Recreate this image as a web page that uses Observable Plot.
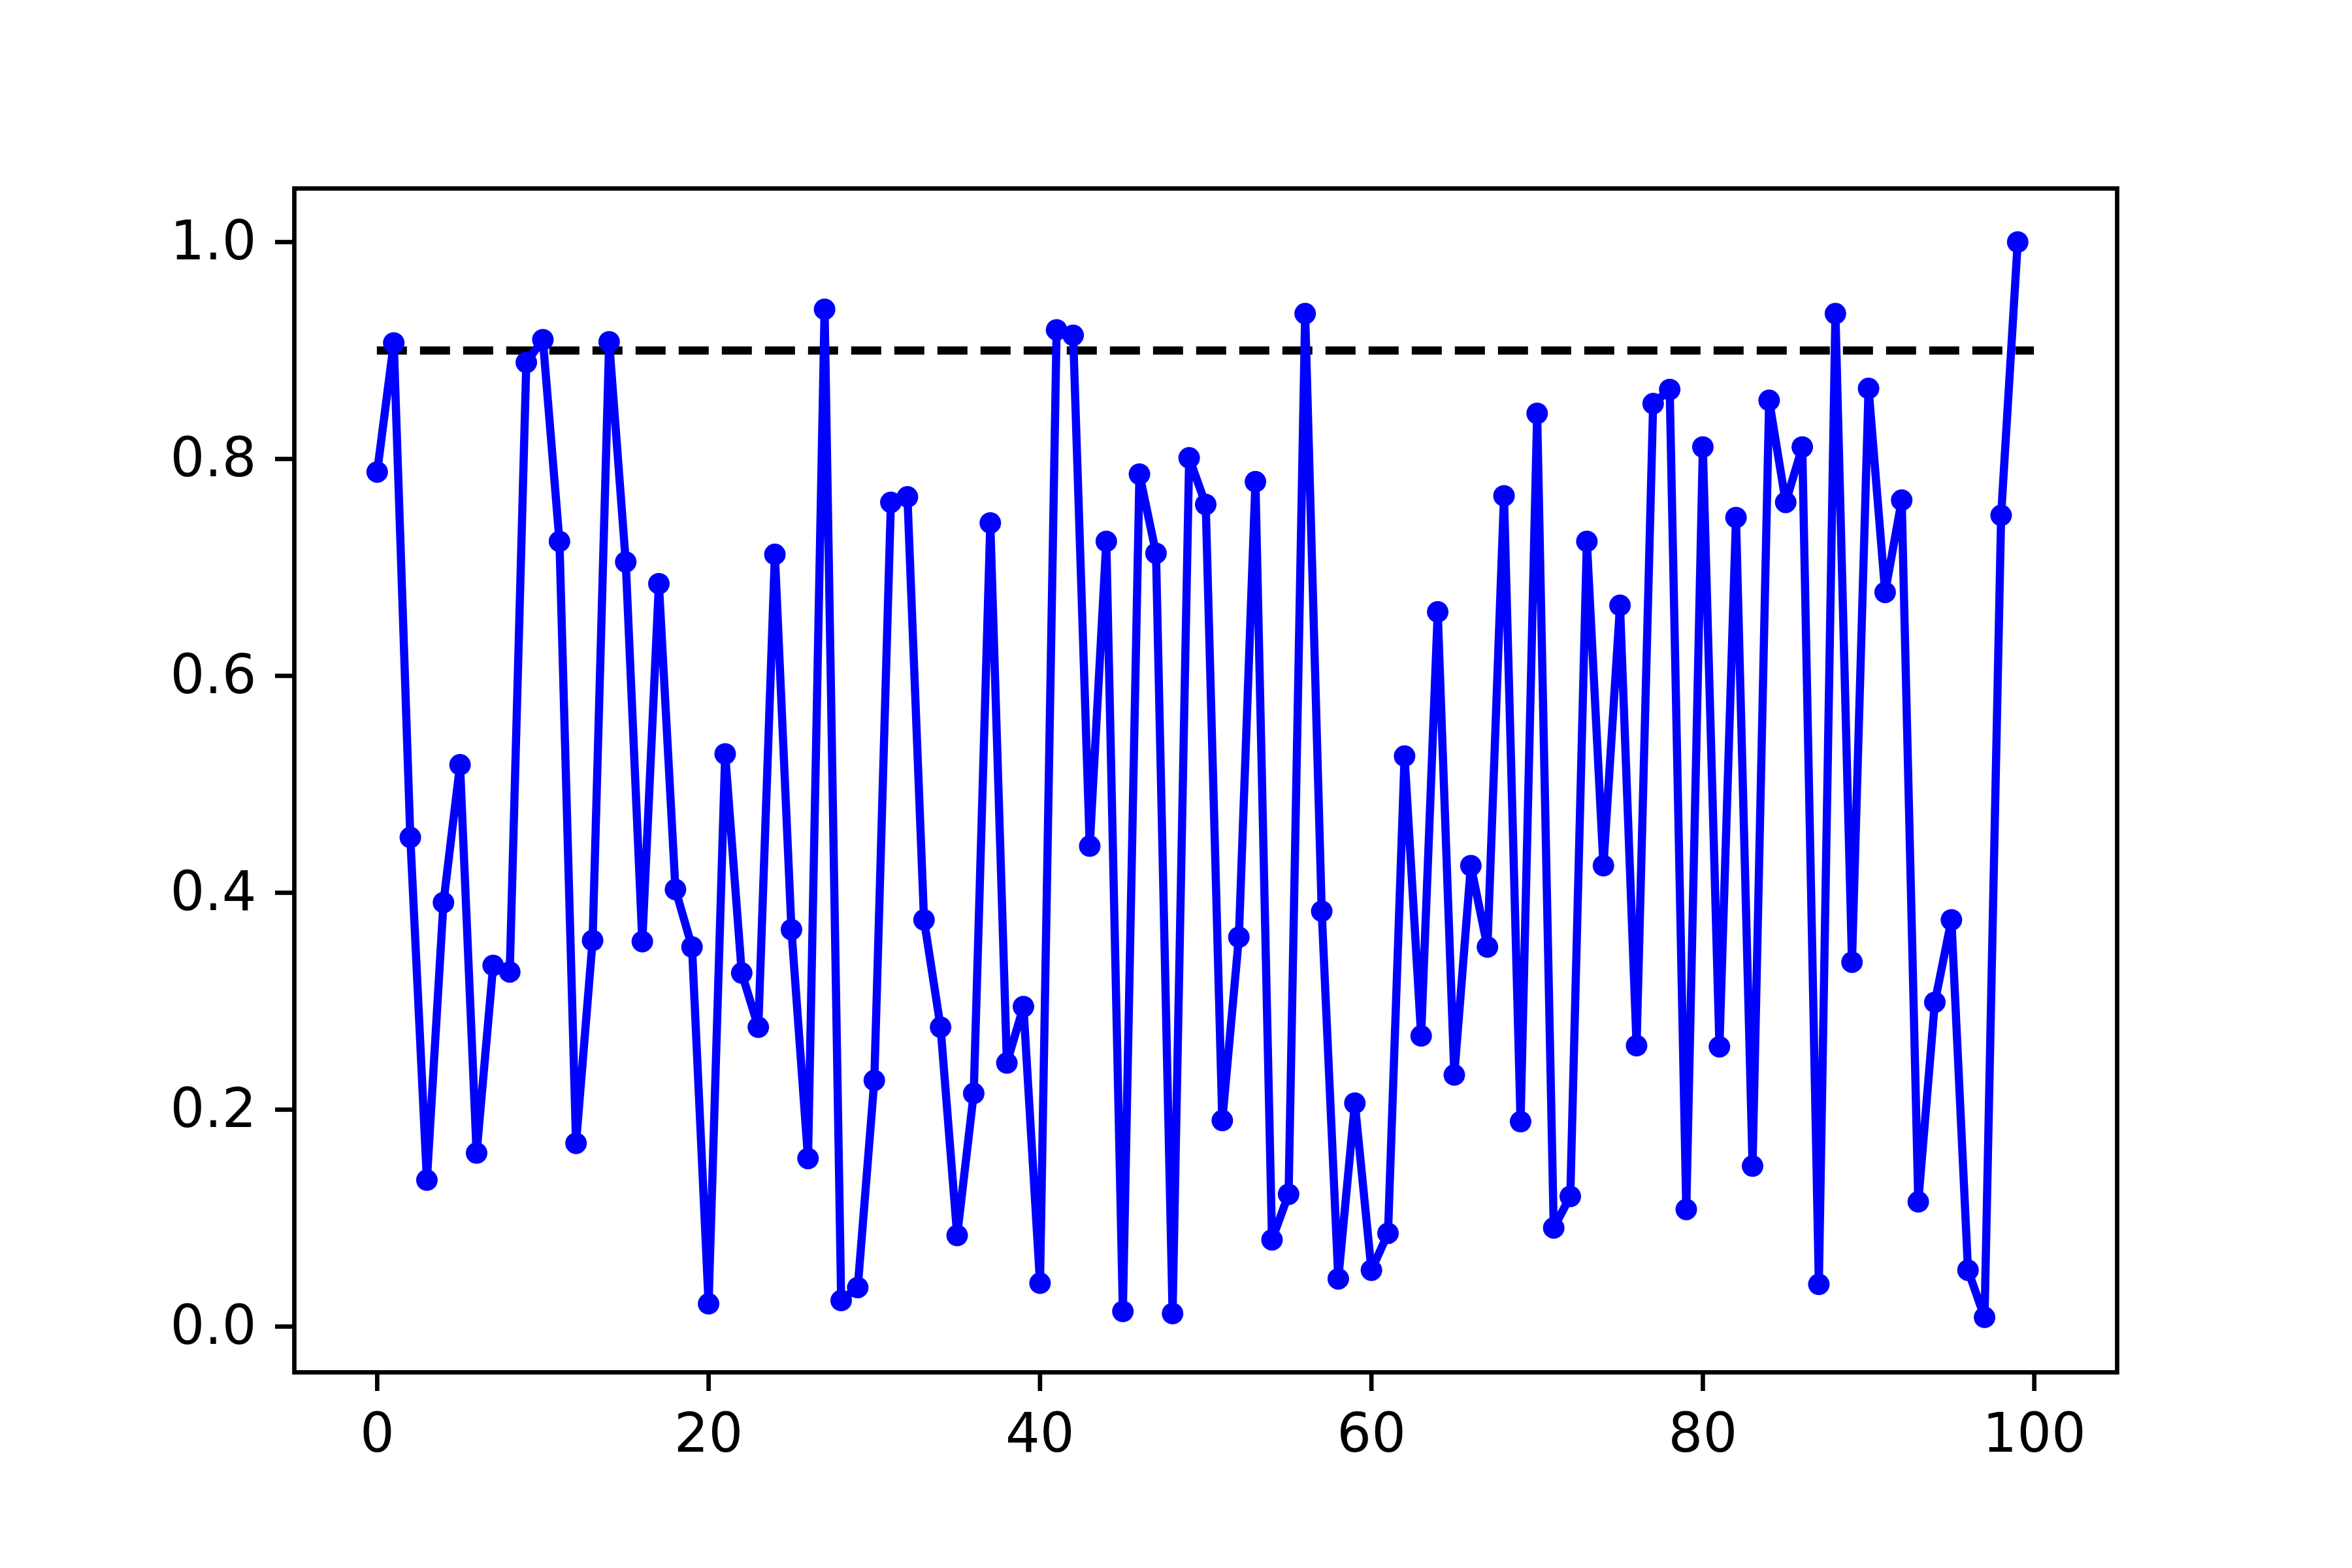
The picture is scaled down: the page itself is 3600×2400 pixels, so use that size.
<!DOCTYPE html>
<html>
<head>
<meta charset="utf-8">
<script src="https://cdn.jsdelivr.net/npm/d3@7"></script>
<script src="https://cdn.jsdelivr.net/npm/@observablehq/plot@0.6"></script>
<style>
  html, body { margin: 0; padding: 0; background: #ffffff; }
  #chart { width: 3600px; height: 2400px; }
</style>
</head>
<body>
<div id="chart"></div>
<script>
// Series values (index 0..99)
const values = [
  0.788, 0.907, 0.451, 0.135, 0.391, 0.518, 0.160, 0.333, 0.327, 0.889,
  0.910, 0.724, 0.169, 0.356, 0.908, 0.705, 0.355, 0.685, 0.403, 0.350,
  0.021, 0.528, 0.326, 0.276, 0.712, 0.366, 0.155, 0.938, 0.024, 0.036,
  0.227, 0.760, 0.765, 0.375, 0.276, 0.084, 0.215, 0.741, 0.243, 0.295,
  0.040, 0.919, 0.914, 0.443, 0.724, 0.014, 0.786, 0.713, 0.012, 0.801,
  0.758, 0.190, 0.359, 0.779, 0.080, 0.122, 0.934, 0.383, 0.044, 0.206,
  0.052, 0.086, 0.526, 0.268, 0.659, 0.232, 0.425, 0.350, 0.766, 0.189,
  0.842, 0.091, 0.120, 0.724, 0.425, 0.665, 0.259, 0.851, 0.864, 0.108,
  0.811, 0.258, 0.746, 0.148, 0.854, 0.760, 0.811, 0.039, 0.934, 0.336,
  0.865, 0.677, 0.762, 0.115, 0.299, 0.375, 0.052, 0.0085, 0.748, 1.000
];
// Threshold line
const threshold = [0.9];
const thresholdStart = [0];
const thresholdEnd = [100];
// Tick labels
const xTicks = [0, 20, 40, 60, 80, 100];
const yTicks = [0.0, 0.2, 0.4, 0.6, 0.8, 1.0];

const series = values.map((v, i) => ({x: i, y: v}));
const thresholdData = threshold.map((t, i) => ({y: t, x1: thresholdStart[i], x2: thresholdEnd[i]}));

const FS = 83;
const LW = 12.5;

const chart = Plot.plot({
  width: 3600,
  height: 2400,
  marginLeft: 450,
  marginRight: 360,
  marginTop: 288,
  marginBottom: 300,
  style: {fontFamily: "'DejaVu Sans', sans-serif", fontSize: FS + "px", color: "#000", background: "#fff"},
  x: {domain: [-5, 105]},
  y: {domain: [-0.0422, 1.0494]},
  marks: [
    Plot.ruleY(thresholdData, {y: "y", x1: "x1", x2: "x2", stroke: "#000", strokeWidth: LW, strokeDasharray: "46,20", strokeLinecap: "butt"}),
    Plot.line(series, {x: "x", y: "y", stroke: "#0000ff", strokeWidth: LW, strokeLinejoin: "round", strokeLinecap: "square"}),
    Plot.dot(series, {x: "x", y: "y", r: 16.5, fill: "#0000ff", stroke: "none"}),
    Plot.frame({stroke: "#000", strokeWidth: 6.7}),
    Plot.axisX({ticks: xTicks, tickFormat: d => String(d), tickSize: 29, tickPadding: 34, strokeWidth: 6.7, fontSize: FS, label: null, fill: "#000", stroke: "#000"}),
    Plot.axisY({ticks: yTicks, tickFormat: d => d.toFixed(1), tickSize: 29, tickPadding: 29, strokeWidth: 6.7, fontSize: FS, label: null, fill: "#000", stroke: "#000"})
  ]
});
document.getElementById("chart").appendChild(chart);
</script>
</body>
</html>
